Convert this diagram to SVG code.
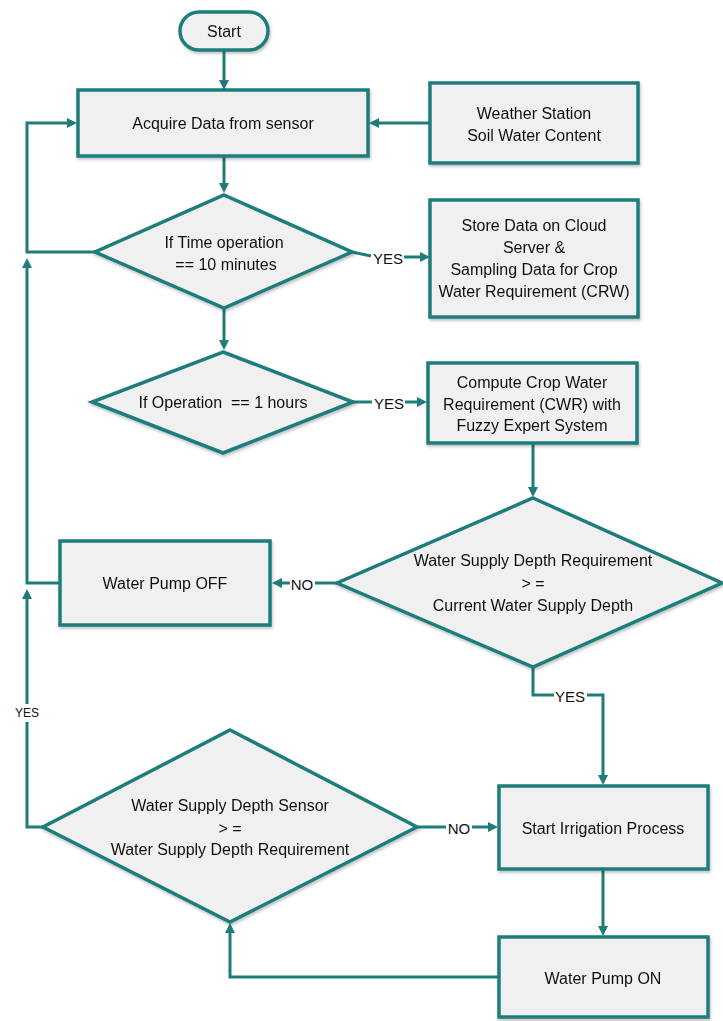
<svg xmlns="http://www.w3.org/2000/svg" width="723" height="1021" viewBox="0 0 723 1021">
<style>
  .node { fill: #f0f0f0; stroke: #1e7d7b; stroke-width: 3.5; }
  .conn { fill: none; stroke: #1e7d7b; stroke-width: 3; }
  .t { font-family: "Liberation Sans", Arial, sans-serif; font-size: 16px; fill: #111; text-anchor: middle; dominant-baseline: central; }
  .lbl { font-family: "Liberation Sans", Arial, sans-serif; font-size: 15px; fill: #111; text-anchor: middle; dominant-baseline: central; }
</style>
<defs>
  <marker id="ah" viewBox="0 0 10 10" refX="0" refY="5" markerWidth="10" markerHeight="11" markerUnits="userSpaceOnUse" orient="auto">
    <path d="M0,0 L10,5 L0,10 z" fill="#1e7d7b"/>
  </marker>
  <filter id="sh" x="-10%" y="-10%" width="130%" height="130%">
    <feDropShadow dx="1" dy="2" stdDeviation="1.5" flood-color="#000" flood-opacity="0.25"/>
  </filter>
</defs>
<rect width="723" height="1021" fill="#ffffff"/>

<g id="connectors">
  <path class="conn" d="M224,50 L224,80" marker-end="url(#ah)"/>
  <path class="conn" d="M430,123 L379,123" marker-end="url(#ah)"/>
  <path class="conn" d="M224,156 L224,183" marker-end="url(#ah)"/>
  <path class="conn" d="M352,252 L371,256"/>
  <text class="lbl" x="388" y="258">YES</text>
  <path class="conn" d="M404,257 L420,257" marker-end="url(#ah)"/>
  <path class="conn" d="M224,308 L224,340" marker-end="url(#ah)"/>
  <path class="conn" d="M353,402 L372,402"/>
  <text class="lbl" x="389" y="403">YES</text>
  <path class="conn" d="M405,402 L417,402" marker-end="url(#ah)"/>
  <path class="conn" d="M533,444 L533,487" marker-end="url(#ah)"/>
  <path class="conn" d="M337,583 L315,583"/>
  <text class="lbl" x="302" y="584">NO</text>
  <path class="conn" d="M290,583 L282,583" marker-end="url(#ah)"/>
  <path class="conn" d="M533,667 L533,695 L554,695"/>
  <text class="lbl" x="570" y="696">YES</text>
  <path class="conn" d="M587,695 L603,695 L603,775" marker-end="url(#ah)"/>
  <path class="conn" d="M603,869 L603,926" marker-end="url(#ah)"/>
  <path class="conn" d="M417,827 L446,827"/>
  <text class="lbl" x="459" y="828">NO</text>
  <path class="conn" d="M472,827 L488,827" marker-end="url(#ah)"/>
  <path class="conn" d="M499,977 L230,977 L230,933" marker-end="url(#ah)"/>
  <path class="conn" d="M43,827 L27,827 L27,722"/>
  <text class="lbl" x="27" y="713" style="font-size:12px">YES</text>
  <path class="conn" d="M27,704 L27,599" marker-end="url(#ah)"/>
  <path class="conn" d="M60,583 L27,583 L27,268" marker-end="url(#ah)"/>
  <path class="conn" d="M95,252 L27,252 L27,123 L67,123" marker-end="url(#ah)"/>
</g>

<g id="start" filter="url(#sh)">
  <rect class="node" x="180" y="12" width="88" height="38" rx="19"/>
  <text class="t" x="224" y="31">Start</text>
</g>
<g id="acquire" filter="url(#sh)">
  <rect class="node" x="78" y="90" width="290" height="66"/>
  <text class="t" x="223" y="123">Acquire Data from sensor</text>
</g>
<g id="weather" filter="url(#sh)">
  <rect class="node" x="430" y="83" width="208" height="80"/>
  <text class="t" x="534" y="113">Weather Station</text>
  <text class="t" x="534" y="135">Soil Water Content</text>
</g>
<g id="decision-time" filter="url(#sh)">
  <polygon class="node" points="224,195 352,252 224,308 95,252"/>
  <text class="t" x="224" y="242">If Time operation</text>
  <text class="t" x="226" y="264">== 10 minutes</text>
</g>
<g id="store" filter="url(#sh)">
  <rect class="node" x="430" y="200" width="208" height="117"/>
  <text class="t" x="534" y="225">Store Data on Cloud</text>
  <text class="t" x="534" y="247">Server &amp;</text>
  <text class="t" x="534" y="269">Sampling Data for Crop</text>
  <text class="t" x="534" y="291">Water Requirement (CRW)</text>
</g>
<g id="decision-hour" filter="url(#sh)">
  <polygon class="node" points="223,352 353,402 223,453 92,402"/>
  <text class="t" x="223" y="402" xml:space="preserve">If Operation  == 1 hours</text>
</g>
<g id="compute" filter="url(#sh)">
  <rect class="node" x="428" y="363" width="209" height="80"/>
  <text class="t" x="532" y="382">Compute Crop Water</text>
  <text class="t" x="532" y="404">Requirement (CWR) with</text>
  <text class="t" x="532" y="425">Fuzzy Expert System</text>
</g>
<g id="decision-depth" filter="url(#sh)">
  <polygon class="node" points="533,498 722,583 533,667 337,583"/>
  <text class="t" x="533" y="560">Water Supply Depth Requirement</text>
  <text class="t" x="533" y="583">&gt; =</text>
  <text class="t" x="533" y="605">Current Water Supply Depth</text>
</g>
<g id="pump-off" filter="url(#sh)">
  <rect class="node" x="60" y="541" width="210" height="84"/>
  <text class="t" x="165" y="583">Water Pump OFF</text>
</g>
<g id="decision-sensor" filter="url(#sh)">
  <polygon class="node" points="230,730 417,827 230,922 43,827"/>
  <text class="t" x="230" y="805">Water Supply Depth Sensor</text>
  <text class="t" x="230" y="828">&gt; =</text>
  <text class="t" x="230" y="849">Water Supply Depth Requirement</text>
</g>
<g id="start-irrigation" filter="url(#sh)">
  <rect class="node" x="499" y="786" width="209" height="83"/>
  <text class="t" x="603" y="828">Start Irrigation Process</text>
</g>
<g id="pump-on" filter="url(#sh)">
  <rect class="node" x="499" y="937" width="209" height="80"/>
  <text class="t" x="603" y="978">Water Pump ON</text>
</g>
</svg>
